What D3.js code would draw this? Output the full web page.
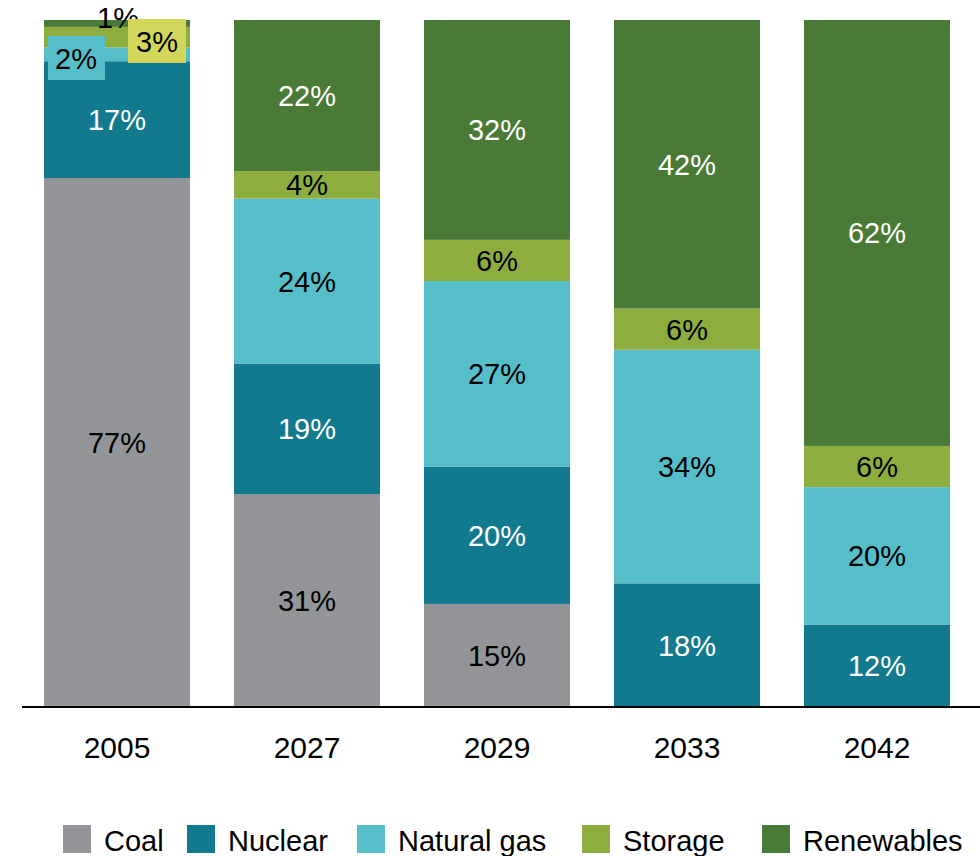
<!DOCTYPE html>
<html>
<head>
<meta charset="utf-8">
<script src="https://cdn.jsdelivr.net/npm/d3@7"></script>
<style>
  body { margin: 0; background: #fff; }
  text { font-family: "Liberation Sans", Arial, sans-serif; }
</style>
</head>
<body>
<div id="chart"></div>
<script>
// data, percent share by year
var years = ['2005', '2027', '2029', '2033', '2042'];
var sources = ['Coal', 'Nuclear', 'Natural gas', 'Storage', 'Renewables'];
var coal = [77, 31, 15, 0, 0];
var nuclear = [17, 19, 20, 18, 12];
var gas = [2, 24, 27, 34, 20];
var storage = [3, 4, 6, 6, 6];
var renewables = [1, 22, 32, 42, 62];
var colors = ['#939598', '#127a8f', '#56bec9', '#8dae3f', '#4a7a37'];
var labelColors = ['#000', '#fff', '#000', '#000', '#fff'];

var W = 980, H = 856;
var margin = {top: 20, right: 30, bottom: 149, left: 44};
var fs = 29;

var rows = years.map(function(y, i) {
  return {year: y, Coal: coal[i], Nuclear: nuclear[i], 'Natural gas': gas[i],
    Storage: storage[i], Renewables: renewables[i]};
});

var svg = d3.select('#chart').append('svg')
  .attr('width', W).attr('height', H);

var x = d3.scaleBand().domain(years)
  .range([margin.left - 22, margin.left - 22 + 190 * 5])
  .paddingInner(44 / 190).paddingOuter(22 / 190);
var y = d3.scaleLinear().domain([0, 100])
  .range([H - margin.bottom, margin.top]);

var stack = d3.stack().keys(sources)(rows);

var g = svg.append('g');
var layers = g.selectAll('g.layer').data(stack).enter().append('g')
  .attr('class', 'layer')
  .attr('fill', function(d, i) { return colors[i]; });

layers.selectAll('rect').data(function(d) { return d; }).enter().append('rect')
  .attr('x', function(d) { return x(d.data.year); })
  .attr('width', x.bandwidth())
  .attr('y', function(d) { return y(d[1]); })
  .attr('height', function(d) { return y(d[0]) - y(d[1]); });

// the thin 2005 slices get callouts; 1% goes first so the 3% box sits over it
var bx = x('2005');
var callouts = g.append('g');
callouts.append('text').attr('x', bx + 74).attr('y', 18)
  .attr('dy', '0.36em').attr('text-anchor', 'middle')
  .attr('font-size', fs).text(renewables[0] + '%');
callouts.append('rect').attr('x', bx + 4).attr('y', 36)
  .attr('width', 57).attr('height', 44).attr('fill', colors[2]);
callouts.append('text').attr('x', bx + 32).attr('y', 59)
  .attr('dy', '0.36em').attr('text-anchor', 'middle')
  .attr('font-size', fs).text(gas[0] + '%');
callouts.append('rect').attr('x', bx + 84).attr('y', 19)
  .attr('width', 58).attr('height', 44).attr('fill', '#d2d65a');
callouts.append('text').attr('x', bx + 113).attr('y', 42)
  .attr('dy', '0.36em').attr('text-anchor', 'middle')
  .attr('font-size', fs).text(storage[0] + '%');

// labels inside the other segments
stack.forEach(function(layer, li) {
  layer.forEach(function(d) {
    var v = d[1] - d[0];
    if (v <= 0) return;
    if (d.data.year === '2005' && li >= 2) return;
    var cx = x(d.data.year) + x.bandwidth() / 2;
    var cy = (y(d[0]) + y(d[1])) / 2;
    g.append('text').attr('x', cx).attr('y', cy)
      .attr('dy', '0.36em').attr('text-anchor', 'middle')
      .attr('font-size', fs).attr('fill', labelColors[li])
      .text(v + '%');
  });
});

// x axis
var xAxis = svg.append('g')
  .attr('transform', 'translate(0,' + y(0) + ')')
  .call(d3.axisBottom(x).tickSize(0).tickPadding(30));
xAxis.select('.domain').remove();
xAxis.selectAll('text').attr('font-size', 30).attr('fill', '#000')
  .style('font-family', '"Liberation Sans", Arial, sans-serif');
svg.append('line').attr('x1', 22).attr('x2', W).attr('y1', y(0)).attr('y2', y(0))
  .attr('stroke', '#000').attr('stroke-width', 2);

// legend
var legendX = [63, 187, 357, 582, 762];
var lg = svg.selectAll('g.leg').data(sources).enter().append('g')
  .attr('class', 'leg')
  .attr('transform', function(d, i) { return 'translate(' + legendX[i] + ',825)'; });
lg.append('rect').attr('width', 28).attr('height', 28)
  .attr('fill', function(d, i) { return colors[i]; });
lg.append('text').attr('x', 41).attr('y', 16).attr('dy', '0.36em')
  .attr('font-size', fs).text(function(d) { return d; });
</script>
</body>
</html>
